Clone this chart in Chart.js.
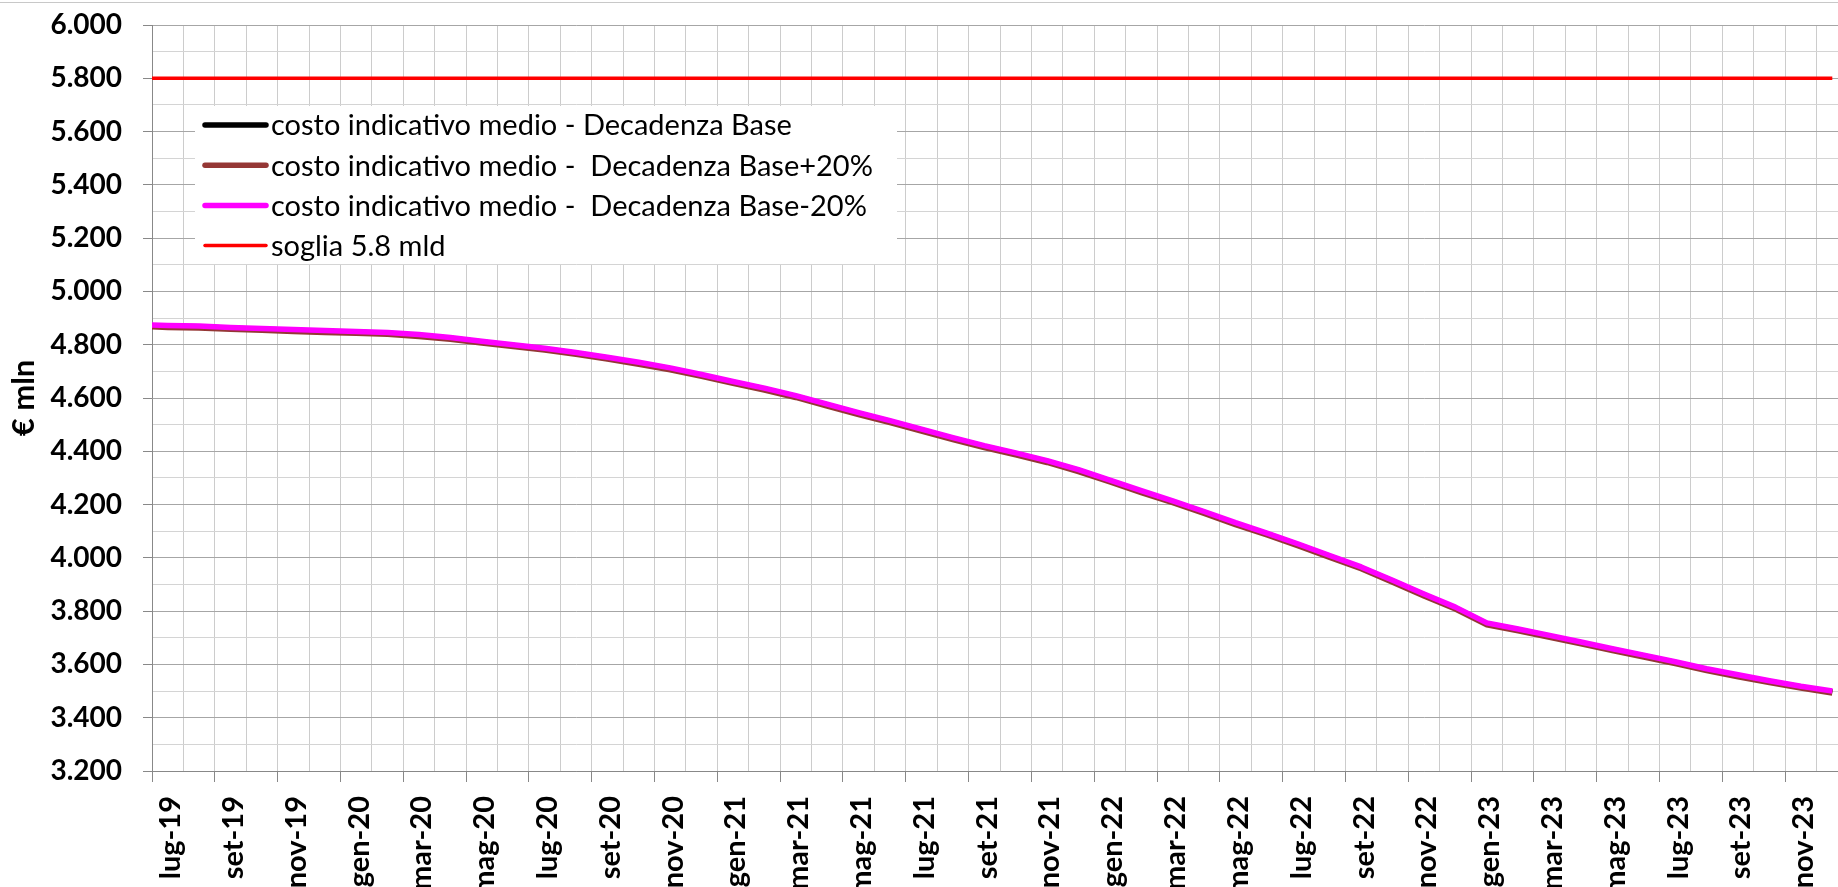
<!DOCTYPE html>
<html lang="it">
<head>
<meta charset="utf-8">
<title>Costo indicativo medio</title>
<script src="https://cdn.jsdelivr.net/npm/chart.js@4.4.1/dist/chart.umd.min.js"></script>
<style>
  html, body { margin: 0; padding: 0; background: #fff; overflow: hidden; }
  #grafico { position: absolute; left: 0; top: 0; }
  #cornice { position: absolute; left: 0; top: 2px; width: 1838px; height: 0; border-top: 1px solid #c8c8c8; }
</style>
</head>
<body>
<canvas id="grafico" width="1850" height="887"></canvas>
<div id="cornice"></div>
<script>
// mesi (asse categorie)
var mesi = [
    'lug-19', 'ago-19', 'set-19', 'ott-19', 'nov-19', 'dic-19',
    'gen-20', 'feb-20', 'mar-20', 'apr-20', 'mag-20', 'giu-20', 'lug-20', 'ago-20', 'set-20', 'ott-20', 'nov-20', 'dic-20',
    'gen-21', 'feb-21', 'mar-21', 'apr-21', 'mag-21', 'giu-21', 'lug-21', 'ago-21', 'set-21', 'ott-21', 'nov-21', 'dic-21',
    'gen-22', 'feb-22', 'mar-22', 'apr-22', 'mag-22', 'giu-22', 'lug-22', 'ago-22', 'set-22', 'ott-22', 'nov-22', 'dic-22',
    'gen-23', 'feb-23', 'mar-23', 'apr-23', 'mag-23', 'giu-23', 'lug-23', 'ago-23', 'set-23', 'ott-23', 'nov-23', 'dic-23'
];

/* first value = where the curve meets the axis, then one value per month (mid-month) */
var costoBase = [4871, 4869, 4867, 4862, 4858, 4854, 4850, 4847, 4843, 4835, 4824, 4810, 4797, 4784, 4768, 4750, 4731, 4710, 4685, 4659,
    4634, 4606, 4574, 4542, 4512, 4480, 4448, 4418, 4391, 4362, 4328, 4289, 4249, 4211, 4171, 4129, 4090, 4049, 4006, 3963,
    3913, 3861, 3812, 3753, 3730, 3706, 3681, 3656, 3632, 3607, 3581, 3558, 3536, 3515, 3497];
var costoPiu20 = [4867, 4865, 4863, 4858, 4854, 4850, 4846, 4843, 4839, 4831, 4820, 4806, 4793, 4780, 4764, 4746, 4727, 4706, 4681, 4655,
    4630, 4602, 4570, 4538, 4508, 4476, 4444, 4414, 4387, 4358, 4324, 4285, 4245, 4207, 4167, 4125, 4086, 4045, 4002, 3959,
    3909, 3857, 3808, 3749, 3726, 3702, 3677, 3652, 3628, 3603, 3577, 3554, 3532, 3511, 3493];
var costoMeno20 = [4874, 4872, 4870, 4865, 4861, 4857, 4853, 4850, 4846, 4838, 4827, 4813, 4800, 4787, 4771, 4753, 4734, 4713, 4688, 4662,
    4637, 4609, 4577, 4545, 4515, 4483, 4451, 4421, 4394, 4365, 4331, 4292, 4252, 4214, 4174, 4132, 4093, 4052, 4009, 3966,
    3916, 3864, 3815, 3756, 3733, 3709, 3684, 3659, 3635, 3610, 3584, 3561, 3539, 3518, 3500];
var soglia = 5800;

var etichette = [
    'costo indicativo medio - Decadenza Base',
    'costo indicativo medio -  Decadenza Base+20%',
    'costo indicativo medio -  Decadenza Base-20%',
    'soglia 5.8 mld'
];

var yMin = 3200, yMax = 6000;

// position in months: 0 = axis, then middle of each month
var posizioni = [0];
for (var i = 0; i < mesi.length; i++) {
    posizioni.push(i + 0.5);
}

function serie(valori) {
    return valori.map(function(v, k) {
        return { x: posizioni[k], y: v };
    });
}

function formatoIt(v) {
    var migliaia = Math.floor(v / 1000);
    var resto = String(v % 1000).padStart(3, '0');
    return migliaia + '.' + resto;
}

var FONT = 'Lato';

/* legend box drawn inside the plot like in excel */
var legendaInterna = {
    id: 'legendaInterna',
    afterDraw: function(chart) {
        var ctx = chart.ctx;
        var area = chart.chartArea;
        var x0 = area.left + 43;
        var y0 = area.top + 81;
        ctx.save();
        ctx.fillStyle = '#ffffff';
        ctx.fillRect(x0, y0, 702, 158);
        ctx.font = '29px ' + FONT;
        ctx.textBaseline = 'middle';
        chart.data.datasets.forEach(function(ds, i) {
            var y = y0 + 19 + i * 40.2;
            ctx.strokeStyle = ds.borderColor;
            ctx.lineWidth = ds.borderWidth;
            ctx.lineCap = 'round';
            ctx.beginPath();
            ctx.moveTo(x0 + 10, y);
            ctx.lineTo(x0 + 71, y);
            ctx.stroke();
            ctx.fillStyle = '#000000';
            ctx.fillText(ds.label, x0 + 76, y + 1);
        });
        ctx.restore();
    }
};

var ctx = document.getElementById('grafico').getContext('2d');
var grafico = new Chart(ctx, {
    type: 'line',
    data: {
        labels: mesi,
        datasets: [{
            label: etichette[0],
            data: serie(costoBase),
            borderColor: '#000000',
            borderWidth: 5.5,
            xAxisID: 'xd',
            order: 2
        }, {
            label: etichette[1],
            data: serie(costoPiu20),
            borderColor: '#953735',
            borderWidth: 5.5,
            xAxisID: 'xd',
            order: 1
        }, {
            label: etichette[2],
            data: serie(costoMeno20),
            borderColor: '#ff00ff',
            borderWidth: 5.5,
            xAxisID: 'xd',
            order: 0
        }, {
            label: etichette[3],
            data: [{ x: 0, y: soglia }, { x: posizioni[posizioni.length - 1], y: soglia }],
            borderColor: '#ff0000',
            borderWidth: 3.5,
            xAxisID: 'xd',
            order: 3
        }]
    },
    options: {
        responsive: false,
        animation: false,
        layout: { padding: { top: 25, right: 2, left: 0, bottom: 0 } },
        elements: {
            point: { radius: 0, hoverRadius: 0 },
            line: { tension: 0, borderJoinStyle: 'round', borderCapStyle: 'butt' }
        },
        plugins: {
            legend: { display: false },
            tooltip: { enabled: false }
        },
        scales: {
            x: {
                type: 'category',
                position: 'bottom',
                offset: true,
                afterFit: function(scale) {
                    scale.height = 116;
                    // rotated labels must not shrink the plot width
                    scale.paddingLeft = 0;
                    scale.paddingRight = 0;
                },
                grid: {
                    offset: true,
                    color: '#cccccc',
                    lineWidth: 1,
                    tickLength: 11,
                    tickColor: function(c) {
                        return (c.index !== undefined && c.index % 2 === 0) ? '#888888' : 'rgba(0,0,0,0)';
                    }
                },
                border: { color: '#888888', width: 1 },
                ticks: {
                    autoSkip: false,
                    maxRotation: 90,
                    minRotation: 90,
                    padding: 14,
                    labelOffset: 3,
                    color: '#000000',
                    font: { family: FONT, size: 29, weight: 'bold' },
                    callback: function(v, i) {
                        return i % 2 === 0 ? mesi[i] : '';
                    }
                }
            },
            xd: {
                type: 'linear',
                display: false,
                min: 0,
                max: mesi.length
            },
            y: {
                min: yMin,
                max: yMax,
                afterFit: function(scale) {
                    scale.width = 152;
                    // tick padding must not push the plot down
                    scale.paddingTop = 0;
                    scale.paddingBottom = 0;
                },
                grid: {
                    color: function(c) {
                        return c.tick && c.tick.value % 200 === 0 ? '#a6a6a6' : '#d4d4d4';
                    },
                    tickLength: 9,
                    tickColor: function(c) {
                        return c.tick && c.tick.value % 200 === 0 ? '#888888' : 'rgba(0,0,0,0)';
                    }
                },
                border: { color: '#888888', width: 1 },
                ticks: {
                    stepSize: 100,
                    autoSkip: false,
                    padding: 21,
                    color: '#000000',
                    font: { family: FONT, size: 28, weight: 'bold' },
                    callback: function(v) {
                        return v % 200 === 0 ? formatoIt(v) : '';
                    }
                },
                title: {
                    display: true,
                    text: '€ mln',
                    color: '#000000',
                    font: { family: FONT, size: 31, weight: 'bold' },
                    padding: { top: 5, bottom: 0 }
                }
            }
        }
    },
    plugins: [legendaInterna]
});
</script>
</body>
</html>
